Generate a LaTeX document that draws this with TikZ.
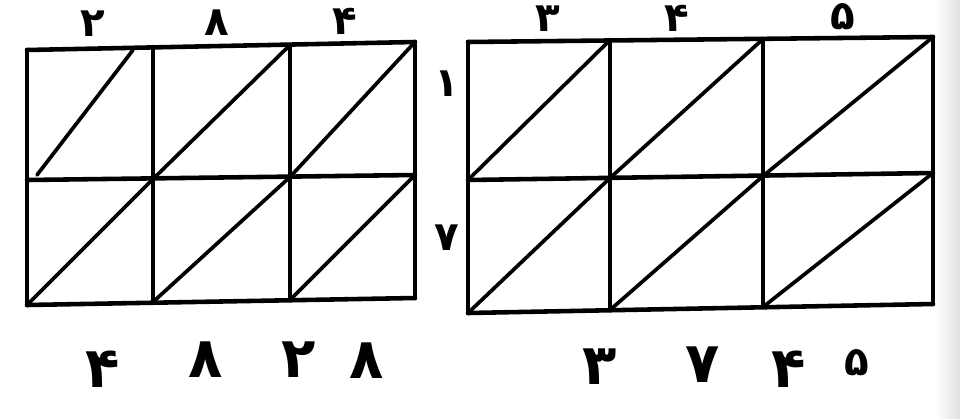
\documentclass[tikz,border=0pt]{standalone}
\usepackage{fontspec}
\newfontfamily\fa[Script=Arabic]{DejaVu Sans Bold}
\begin{document}
\begin{tikzpicture}[x=0.02cm,y=-0.02cm,
  gridline/.style={line width=2.6pt, line cap=round, line join=round},
  diagline/.style={line width=2.1pt, line cap=round},
  dig/.style={font=\fa\fontsize{23}{23}\selectfont, inner sep=0pt},
  bigdig/.style={font=\fa\fontsize{32}{32}\selectfont, inner sep=0pt}]
\useasboundingbox (0,0) rectangle (960,419);
\fill[white] (0,0) rectangle (960,419);
\shade[left color=white, right color=black!12] (935,0) rectangle (960,419);
% left grid points
\coordinate (L00) at (27,50);  \coordinate (L01) at (153,47);  \coordinate (L02) at (290,45);  \coordinate (L03) at (415,42);
\coordinate (L10) at (27,180); \coordinate (L11) at (153,179); \coordinate (L12) at (290,177); \coordinate (L13) at (415,175);
\coordinate (L20) at (27,305); \coordinate (L21) at (153,302); \coordinate (L22) at (290,300); \coordinate (L23) at (415,298);
% right grid points
\coordinate (R00) at (468,42);  \coordinate (R01) at (610,40);  \coordinate (R02) at (763,39);  \coordinate (R03) at (933,37);
\coordinate (R10) at (468,180); \coordinate (R11) at (610,178); \coordinate (R12) at (763,176); \coordinate (R13) at (933,173);
\coordinate (R20) at (468,313); \coordinate (R21) at (610,310); \coordinate (R22) at (763,307); \coordinate (R23) at (933,304);
\coordinate (Ld1) at (37,175); \coordinate (Ld2) at (133,50);
% grid lines
\foreach \g in {L,R}{
  \foreach \r in {0,1,2}{ \draw[gridline] (\g\r0) -- (\g\r3); }
  \foreach \c in {0,1,2,3}{ \draw[gridline] (\g0\c) -- (\g2\c); }
}
% diagonals
\draw[diagline] (Ld1) -- (Ld2);
\draw[diagline] (L11) -- (L02);
\draw[diagline] (L12) -- (L03);
\draw[diagline] (L20) -- (L11);
\draw[diagline] (L21) -- (L12);
\draw[diagline] (L22) -- (L13);
\draw[diagline] (R10) -- (R01);
\draw[diagline] (R11) -- (R02);
\draw[diagline] (R12) -- (R03);
\draw[diagline] (R20) -- (R11);
\draw[diagline] (R21) -- (R12);
\draw[diagline] (R22) -- (R13);
% digits left grid
\node[dig] (lt1) at (93,24) {۲};
\node[dig] (lt2) at (217,23) {۸};
\node[dig] (lt3) at (345,21) {۴};
\node[dig] (lr1) at (447,84) {۱};
\node[dig] (lr2) at (447,238) {۷};
\node[bigdig] (lb1) at (103,369) {۴};
\node[bigdig] (lb2) at (206,360) {۸};
\node[bigdig] (lb3) at (299,360) {۲};
\node[bigdig] (lb4) at (367,361) {۸};
% digits right grid
\node[dig] (rt1) at (548,19) {۳};
\node[dig] (rt2) at (677,18) {۴};
\node[dig] (rt3) at (843,17) {۵};
\node[bigdig] (rb1) at (600,367) {۳};
\node[bigdig] (rb2) at (703,365) {۷};
\node[bigdig] (rb3) at (789,369) {۴};
\node[dig] (rb4) at (857,363) {۵};
\end{tikzpicture}
\end{document}
